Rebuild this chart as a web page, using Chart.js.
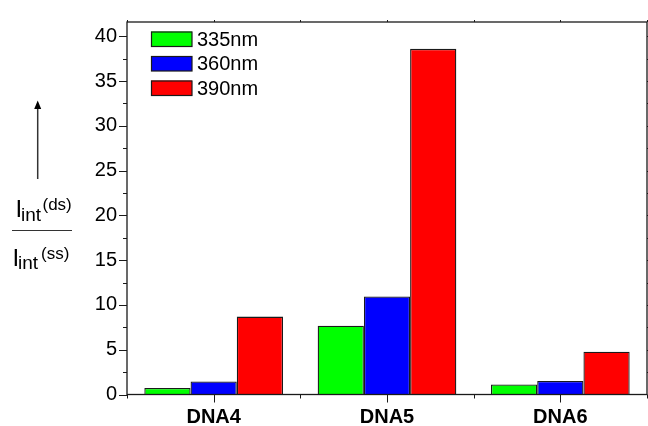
<!DOCTYPE html>
<html>
<head>
<meta charset="utf-8">
<script src="https://cdn.jsdelivr.net/npm/chart.js@4/dist/chart.umd.min.js"></script>
<style>
  html, body { margin: 0; padding: 0; background: #fff; }
  #wrap { width: 648px; height: 426px; position: relative; }
</style>
</head>
<body>
<div id="wrap"><canvas id="myChart"></canvas></div>
<script>
const categories = ['DNA4', 'DNA5', 'DNA6'];
const seriesLabels = ['335nm', '360nm', '390nm'];
const values335 = [0.73, 7.67, 1.12];
const values360 = [1.46, 10.95, 1.52];
const values390 = [8.70, 38.6, 4.77];
const yTicks = [0, 5, 10, 15, 20, 25, 30, 35, 40];
const yMinorStep = 2.5;

const FONT = '"Liberation Sans", Arial, Helvetica, sans-serif';
const colors = ['#00ff00', '#0000ff', '#ff0000'];

// frame, ticks, legend and the stacked y label are drawn by hand
const decorations = {
  id: 'decorations',
  afterDraw(chart) {
    const c = chart.ctx;
    const a = chart.chartArea;
    const x = chart.scales.x;
    const y = chart.scales.y;
    c.save();
    c.strokeStyle = '#1a1a1a';
    c.lineWidth = 1.3;
    c.strokeRect(a.left, a.top, a.right - a.left, a.bottom - a.top);

    c.lineWidth = 1;
    c.beginPath();
    for (let v = 0; v <= 40 + 1e-9; v += yMinorStep) {
      const p = Math.round(y.getPixelForValue(v)) + 0.5;
      const len = v % 5 === 0 ? 8 : 4;
      c.moveTo(a.left, p); c.lineTo(a.left - len, p);
      c.moveTo(a.right, p); c.lineTo(a.right + len, p);
    }
    for (let i = -0.5; i <= categories.length - 0.5; i += 0.5) {
      const p = Math.round(x.getPixelForValue(i)) + 0.5;
      const major = Number.isInteger(i);
      c.moveTo(p, a.bottom); c.lineTo(p, a.bottom + (major ? 8 : 4));
      c.moveTo(p, a.top); c.lineTo(p, a.top - 2);
    }
    c.stroke();

    // legend
    c.font = '20px ' + FONT;
    c.textBaseline = 'middle';
    chart.data.datasets.forEach((ds, k) => {
      const top = 31.5 + k * 24.5;
      c.fillStyle = ds.backgroundColor;
      c.fillRect(151, top, 41, 15);
      c.strokeStyle = '#1a1a1a';
      c.lineWidth = 1.2;
      c.strokeRect(151.5, top + 0.5, 40.5, 14.5);
      c.fillStyle = '#000';
      c.fillText(ds.label, 197, top + 8.5);
    });

    // y label: arrow and fraction
    c.strokeStyle = '#333';
    c.fillStyle = '#000';
    c.lineWidth = 1.5;
    c.beginPath();
    c.moveTo(37.7, 179); c.lineTo(37.7, 105);
    c.stroke();
    c.beginPath();
    c.moveTo(37.7, 100.5); c.lineTo(34.2, 109); c.lineTo(41.2, 109); c.closePath();
    c.fill();
    c.lineWidth = 1;
    c.beginPath();
    c.moveTo(12, 230.5); c.lineTo(72, 230.5);
    c.stroke();

    c.textBaseline = 'alphabetic';
    const part = (txt, size, px, py) => {
      c.font = size + 'px ' + FONT;
      c.fillText(txt, px, py);
    };
    part('I', 24, 15.5, 216.7);
    part('int', 19, 21, 220.5);
    part('(ds)', 17, 42.5, 209.5);
    part('I', 24, 12.5, 266);
    part('int', 19, 18, 269);
    part('(ss)', 17, 41, 258.5);
    c.restore();
  }
};

const ctx = document.getElementById('myChart').getContext('2d');
new Chart(ctx, {
  type: 'bar',
  data: {
    labels: categories,
    datasets: [values335, values360, values390].map((vals, k) => ({
      label: seriesLabels[k],
      data: vals,
      backgroundColor: colors[k],
      borderColor: '#1a1a1a',
      borderWidth: 1.3,
      categoryPercentage: 0.8,
      barPercentage: 1.0
    }))
  },
  options: {
    responsive: true,
    maintainAspectRatio: false,
    animation: false,
    layout: { padding: { top: 13, right: 1, bottom: 0, left: 0 } },
    plugins: { legend: { display: false }, tooltip: { enabled: false } },
    scales: {
      x: {
        grid: { display: false, drawTicks: false },
        border: { display: false },
        ticks: { color: '#000', padding: 11, font: { family: FONT, size: 20, weight: 'bold' } },
        afterFit(scale) { scale.height = 31.5; }
      },
      y: {
        min: 0,
        max: 41.6,
        grid: { display: false, drawTicks: false },
        border: { display: false },
        ticks: { color: '#000', padding: 10, font: { family: FONT, size: 20 } },
        afterBuildTicks(scale) { scale.ticks = yTicks.map(v => ({ value: v })); },
        afterFit(scale) { scale.width = 127; }
      }
    }
  },
  plugins: [decorations]
});
</script>
</body>
</html>
